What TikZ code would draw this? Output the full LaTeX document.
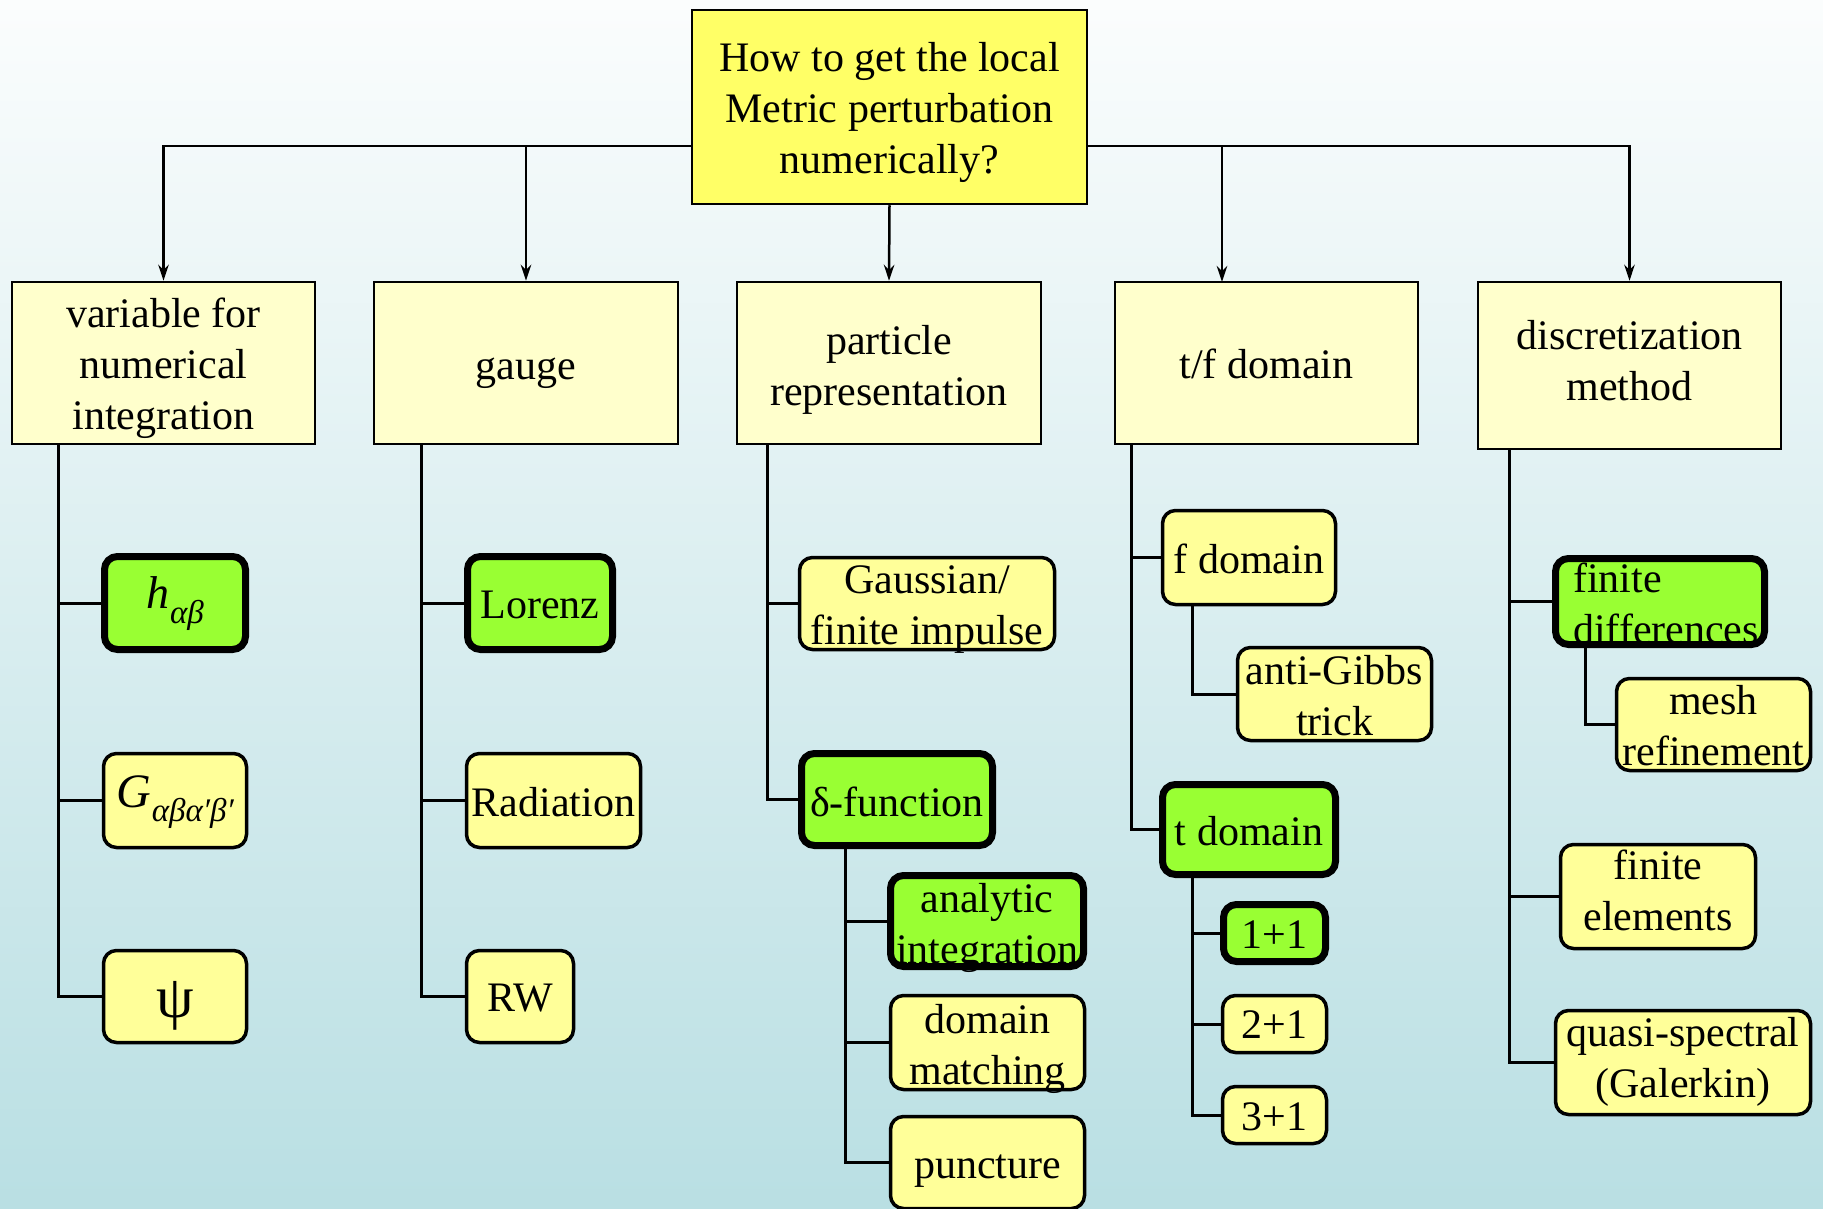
\documentclass[tikz,border=0pt]{standalone}
\usepackage{fontspec}
\setmainfont{Liberation Serif}
\usetikzlibrary{arrows.meta}
\definecolor{bgtop}{RGB}{251,253,253}
\definecolor{bgbot}{RGB}{185,223,227}
\definecolor{rootfill}{HTML}{FFFF66}
\definecolor{catfill}{HTML}{FFFFCC}
\definecolor{leaffill}{HTML}{FFFF99}
\definecolor{keyfill}{HTML}{99FF33}
\newcommand{\subtx}[2]{\raisebox{-#1pt}{\fontsize{33}{33}\selectfont\itshape #2}}
\begin{document}
\begin{tikzpicture}[x=1pt,y=-1pt,
  every node/.style={inner sep=0pt, align=center, font=\fontsize{42}{51}\selectfont},
  rootbox/.style={draw, line width=2.5pt, fill=rootfill},
  catbox/.style={draw, line width=2.5pt, fill=catfill},
  leafbox/.style={draw, line width=3.5pt, fill=leaffill, rounded corners=13pt},
  keybox/.style={draw, line width=7pt, fill=keyfill, rounded corners=13pt},
  conn/.style={line width=3pt},
  arr/.style={line width=2.5pt, -{Stealth[length=16pt,width=10.5pt]}},
  sz/.style 2 args={minimum width=#1pt, minimum height=#2pt}
]
\useasboundingbox (0,0) rectangle (1823,1209);
\shade[top color=bgtop, bottom color=bgbot] (0,0) rectangle (1823,1209);

% ---------- boxes ----------
\node[rootbox, sz={395}{194}] (root) at (889.5,107) {};
\node[catbox, sz={303}{162}] (cat1) at (163.5,363) {};
\node[catbox, sz={304}{162}] (cat2) at (526,363) {};
\node[catbox, sz={304}{162}] (cat3) at (889,363) {};
\node[catbox, sz={303}{162}] (cat4) at (1266.5,363) {};
\node[catbox, sz={303}{167}] (cat5) at (1629.5,365.5) {};
% column 1
\node[keybox, sz={141}{93}] (h) at (175,603) {};
\node[leafbox, sz={143}{94}] (G) at (175,800.5) {};
\node[leafbox, sz={143}{92}] (psi) at (175,996.5) {};
% column 2
\node[keybox, sz={145}{93}] (lor) at (540,603) {};
\node[leafbox, sz={174}{94}] (rad) at (553.5,800.5) {};
\node[leafbox, sz={107}{92}] (rw) at (520,996.5) {};
% column 3
\node[leafbox, sz={255}{92}] (gau) at (927,603.5) {};
\node[keybox, sz={191}{92}] (del) at (897,799.5) {};
\node[keybox, sz={193}{91}] (ana) at (987,921) {};
\node[leafbox, sz={194}{94}] (dom) at (987.5,1042.5) {};
\node[leafbox, sz={194}{92}] (pun) at (987.5,1162.5) {};
% column 4
\node[leafbox, sz={173}{94}] (fdom) at (1249,557.5) {};
\node[leafbox, sz={194}{93}] (gibbs) at (1334.5,694) {};
\node[keybox, sz={173}{90}] (tdom) at (1249,829.5) {};
\node[keybox, sz={102}{57}] (d11) at (1274.5,933) {};
\node[leafbox, sz={104}{57}] (d21) at (1274.5,1024) {};
\node[leafbox, sz={104}{57}] (d31) at (1274.5,1115) {};
% column 5
\node[keybox, sz={209}{86}] (fd) at (1660,601.5) {};
\node[leafbox, sz={194}{92}] (mesh) at (1713.5,724.5) {};
\node[leafbox, sz={195}{104}] (fe) at (1658,896.5) {};
\node[leafbox, sz={255}{104}] (qs) at (1683,1062.5) {};

% ---------- texts ----------
\node (root-t) at ([yshift=-5pt]root.center) {How to get the local\\Metric perturbation\\numerically?};
\node (cat1-t) at ([yshift=-5pt]cat1.center) {variable for\\numerical\\integration};
\node (cat2-t) at ([yshift=-10pt]cat2.center) {gauge};
\node (cat3-t) at ([yshift=-7pt]cat3.center) {particle\\representation};
\node (cat4-t) at ([yshift=-1pt]cat4.center) {t/f domain};
\node (cat5-t) at ([yshift=5pt]cat5.center) {discretization\\method};
\node (h-t) at ([yshift=-1pt]h.center) {{\fontsize{46}{46}\selectfont\itshape h}\kern1pt\subtx{15}{αβ}};
\node (G-t) at ([yshift=-2pt]G.center) {{\fontsize{48}{48}\selectfont\itshape G}\kern1pt\subtx{14}{αβα′β′}};
\node (psi-t) at ([yshift=-9pt]psi.center) {\fontsize{60}{60}\selectfont ψ};
\node (lor-t) at ([yshift=-2pt]lor.center) {Lorenz};
\node (rad-t) at ([yshift=-2pt]rad.center) {Radiation};
\node (rw-t) at ([yshift=-2pt]rw.center) {RW};
\node (gau-t) at ([yshift=-6pt]gau.center) {Gaussian/\\finite impulse};
\node (del-t) at ([yshift=-2pt]del.center) {δ-function};
\node (ana-t) at ([yshift=-7pt]ana.center) {analytic\\integration};
\node (dom-t) at ([yshift=-6pt]dom.center) {domain\\matching};
\node (pun-t) at ([yshift=-9pt]pun.center) {puncture};
\node (fdom-t) at ([yshift=-1pt]fdom.center) {f domain};
\node (gibbs-t) at ([yshift=-2pt]gibbs.center) {anti-Gibbs\\trick};
\node (tdom-t) at ([yshift=-2pt]tdom.center) {t domain};
\node (d11-t) at ([yshift=-2pt]d11.center) {1+1};
\node (d21-t) at ([yshift=-1pt]d21.center) {2+1};
\node (d31-t) at ([yshift=-2pt]d31.center) {3+1};
\node[align=left] (fd-t) at ([yshift=-2pt]fd.center) {\hspace*{12pt}finite\\\hspace*{12pt}differences};
\node (mesh-t) at ([yshift=-1pt]mesh.center) {mesh\\refinement};
\node (fe-t) at ([yshift=6pt]fe.center) {finite\\elements};
\node (qs-t) at ([yshift=1pt]qs.center) {quasi-spectral\\(Galerkin)};

% ---------- arrows from root ----------
\path (0,146) coordinate (ybar);
\coordinate (barL) at (root.west |- ybar);
\coordinate (barR) at (root.east |- ybar);
\coordinate (c4top) at (1222,282);
\draw[arr] (barL) -| (cat1.north);
\draw[arr] (barL) -| (cat2.north);
\draw[arr] (root.south) -- (cat3.north);
\draw[arr] (barR) -| (c4top);
\draw[arr] (barR) -| (cat5.north);

% ---------- trunks and branches ----------
\coordinate (t1) at (58,444);
\coordinate (t2) at (421,444);
\coordinate (t3) at (767,444);
\coordinate (t4) at (1131,444);
\coordinate (t5) at (1509,449);
\coordinate (s3) at (845,849);
\coordinate (s4a) at (1192,606);
\coordinate (s4b) at (1192,878);
\coordinate (s5) at (1585,648);

\begin{scope}[conn]
\draw (t1) |- (h.west);
\draw (t1) |- (G.west);
\draw (t1) |- (psi.west);
\draw (t2) |- (lor.west);
\draw (t2) |- (rad.west);
\draw (t2) |- (rw.west);
\draw (t3) |- (gau.west);
\draw (t3) |- (del.west);
\draw (s3) |- (ana.west);
\draw (s3) |- (dom.west);
\draw (s3) |- (pun.west);
\draw (t4) |- (fdom.west);
\draw (t4) |- (tdom.west);
\draw (s4a) |- (gibbs.west);
\draw (s4b) |- (d11.west);
\draw (s4b) |- (d21.west);
\draw (s4b) |- (d31.west);
\draw (t5) |- (fd.west);
\draw (t5) |- (fe.west);
\draw (t5) |- (qs.west);
\draw (s5) |- (mesh.west);
\end{scope}
\end{tikzpicture}
\end{document}
